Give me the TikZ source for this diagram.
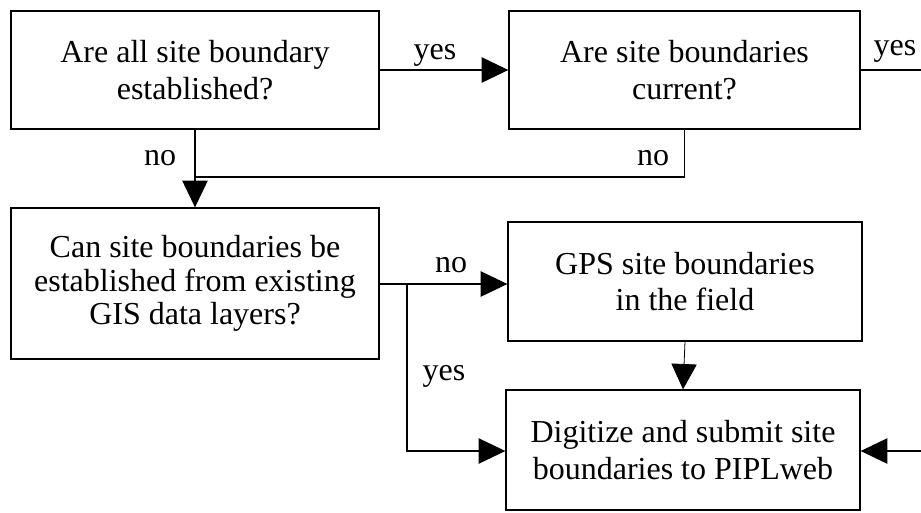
\documentclass[tikz,border=0pt]{standalone}
\usepackage{fontspec}
\setmainfont{Liberation Serif}
\usetikzlibrary{arrows.meta}
\begin{document}
\begin{tikzpicture}[x=0.75pt,y=-0.75pt,
  box/.style={draw, rectangle, line width=1pt, align=center, inner sep=0pt,
    font=\fontsize{24}{27.5}\selectfont},
  lbl/.style={anchor=base, inner sep=0pt, font=\fontsize{24}{27.5}\selectfont},
  conn/.style={line width=1pt},
  arr/.style={line width=1pt, -{Triangle[length=20pt,width=19pt]}},
  thinarr/.style={line width=0.6pt, -{Triangle[length=19pt,width=19pt]}}]
\useasboundingbox (0,0) rectangle (921,512);
\node[box, minimum width=368*0.75pt, minimum height=118*0.75pt] (b1) at (195,70) {Are all site boundary\\established?};
\node[box, minimum width=351*0.75pt, minimum height=118*0.75pt] (b2) at (684.5,70) {Are site boundaries\\current?};
\node[box, minimum width=368*0.75pt, minimum height=151*0.75pt, font=\fontsize{24}{25}\selectfont] (b3) at (195,283.5) {Can site boundaries be\\established from existing\\GIS data layers?};
\node[box, minimum width=354*0.75pt, minimum height=119*0.75pt] (b4) at (685,281.5) {GPS site boundaries\\in the field};
\node[box, minimum width=354*0.75pt, minimum height=120*0.75pt] (b5) at (683,450) {Digitize and submit site\\boundaries to PIPLweb};
\coordinate (join) at (195,177);
\coordinate (br) at (407,284);
\coordinate (outA) at (921,70);
\coordinate (outB) at (921,451);
% connectors
\draw[arr] (b1.east) -- (b2.west);
\draw[conn] (b2.east) -- (outA);
\draw[arr] (b1.south) -- (b3.north);
\draw[conn] (b2.south) |- (join);
\draw[arr] (b3.east |- br) -- (b4.west |- br);
\draw[arr] (br) |- (b5.west |- outB);
\draw[thinarr] (b4.south) -- (b5.north);
\draw[arr] (outB) -- (b5.east |- outB);
% labels
\node[lbl] (l1) at (435,59) {yes};
\node[lbl] (l2) at (895,55) {yes};
\node[lbl] (l3) at (160,165) {no};
\node[lbl] (l4) at (653,165) {no};
\node[lbl] (l5) at (451,272) {no};
\node[lbl] (l6) at (444,380) {yes};
\end{tikzpicture}
\end{document}
